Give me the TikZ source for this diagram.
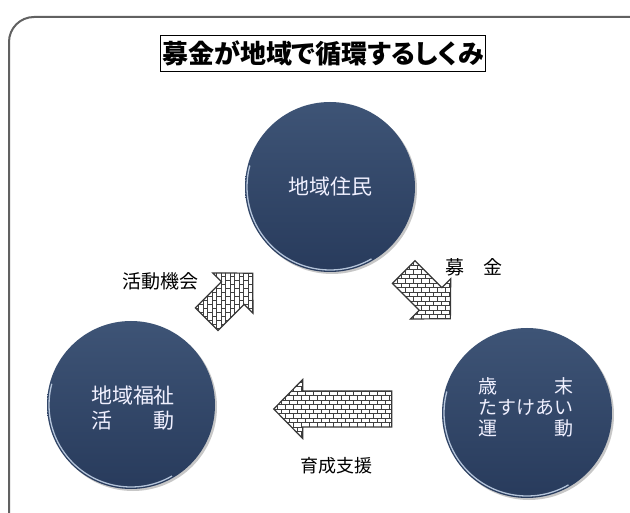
\documentclass[tikz,border=0pt]{standalone}
\usepackage{fontspec}
\newfontfamily\jp{Noto Sans CJK JP}
\newfontfamily\jpt[RawFeature=+palt]{Noto Sans CJK JP}
\usetikzlibrary{patterns,shadows}
\definecolor{navytop}{RGB}{62,84,118}
\definecolor{navybot}{RGB}{40,59,92}
\definecolor{rimc}{RGB}{205,220,240}
\pgfdeclarepatternformonly{hbricks}{\pgfpoint{-0.5pt}{-0.5pt}}{\pgfpoint{8.5pt}{9.5pt}}{\pgfpoint{8pt}{9pt}}{%
  \pgfsetlinewidth{0.55pt}%
  \pgfpathmoveto{\pgfpoint{0pt}{0.5pt}}\pgfpathlineto{\pgfpoint{8pt}{0.5pt}}%
  \pgfpathmoveto{\pgfpoint{0pt}{5pt}}\pgfpathlineto{\pgfpoint{8pt}{5pt}}%
  \pgfpathmoveto{\pgfpoint{1pt}{0.5pt}}\pgfpathlineto{\pgfpoint{1pt}{5pt}}%
  \pgfpathmoveto{\pgfpoint{5pt}{5pt}}\pgfpathlineto{\pgfpoint{5pt}{9.5pt}}%
  \pgfusepath{stroke}}
\pgfdeclarepatternformonly{vbricks}{\pgfpoint{-0.5pt}{-0.5pt}}{\pgfpoint{9.5pt}{8.5pt}}{\pgfpoint{9pt}{8pt}}{%
  \pgfsetlinewidth{0.55pt}%
  \pgfpathmoveto{\pgfpoint{0.5pt}{0pt}}\pgfpathlineto{\pgfpoint{0.5pt}{8pt}}%
  \pgfpathmoveto{\pgfpoint{5pt}{0pt}}\pgfpathlineto{\pgfpoint{5pt}{8pt}}%
  \pgfpathmoveto{\pgfpoint{0.5pt}{1pt}}\pgfpathlineto{\pgfpoint{5pt}{1pt}}%
  \pgfpathmoveto{\pgfpoint{5pt}{5pt}}\pgfpathlineto{\pgfpoint{9.5pt}{5pt}}%
  \pgfusepath{stroke}}
\tikzset{
  framestyle/.style={draw=black!62, line width=2pt},
  titlebox/.style={draw=black, line width=0.8pt, inner xsep=2pt, inner ysep=1pt, minimum height=36pt, font=\jpt\bfseries\fontsize{26}{26}\selectfont},
  circ/.style={circle, draw=none, top color=navytop, bottom color=navybot, text=white,
    drop shadow={shadow xshift=2pt, shadow yshift=-2pt, opacity=0.22, fill=black}},
  rim/.style={draw=rimc, line width=1.3pt, opacity=0.85},
  intext/.style={text=white!94!blue, align=left, inner sep=0pt},
  lab/.style={text=black, inner sep=0pt},
  barrow/.style={draw=black!78, line width=1.2pt, line join=miter,
    preaction={fill=white}, pattern color=black!75},
}
\begin{document}
\begin{tikzpicture}[x=1pt,y=-1pt]
\useasboundingbox (0,0) rectangle (630,513);
\fill[white] (0,0) rectangle (630,513);
% outer frame
\draw[framestyle] (9,515) -- (9,42) arc[start angle=180, end angle=270, radius=25] -- (632,17);
% title
\node[titlebox] (title) at (323,53) {募金が地域で循環するしくみ};
% circles
\node[circ, minimum size=170pt] (top) at (330,187) {};
\node[circ, minimum size=168pt] (bl) at (131,405) {};
\node[circ, minimum size=170pt] (br) at (527,413) {};
\draw[rim] (top.center) ++(60:83) arc[start angle=60, end angle=195, radius=83];
\draw[rim] (bl.center) ++(60:82) arc[start angle=60, end angle=195, radius=82];
\draw[rim] (br.center) ++(60:83) arc[start angle=60, end angle=195, radius=83];
% circle texts
\node[intext, font=\jp\fontsize{21}{21}\selectfont] (ttop) at (top.center) {地域住民};
\node[intext, font=\jp\fontsize{21}{25}\selectfont] (tbl) at (133,408) {地域福祉\\\makebox[4em][l]{活\hfill 動}};
\node[intext, font=\jp\fontsize{19}{21}\selectfont] (tbr) at (525.5,407) {\makebox[5em][l]{歳\hfill 末}\\たすけあい\\\makebox[5em][l]{運\hfill 動}};
% block arrows
\begin{scope}[shift={(206.7,319.2)}, rotate=45]
  \draw[barrow, pattern=vbricks] (0,-16) -- (37,-16) -- (37,-28.5) -- (65,0) -- (37,28.5) -- (37,16) -- (0,16) -- cycle;
\end{scope}
\begin{scope}[shift={(403.7,272)}, rotate=-45]
  \draw[barrow, pattern=hbricks] (0,-16) -- (38,-16) -- (38,-28.5) -- (66,0) -- (38,28.5) -- (38,16) -- (0,16) -- cycle;
\end{scope}
\begin{scope}[shift={(391.7,409)}, rotate=180]
  \draw[barrow, pattern=hbricks] (0,-18) -- (89,-18) -- (89,-29.5) -- (118,0) -- (89,29.5) -- (89,18) -- (0,18) -- cycle;
\end{scope}
% labels
\node[lab, font=\jp\fontsize{19}{19}\selectfont] (l1) at (160,281) {活動機会};
\node[lab, font=\jp\fontsize{19}{19}\selectfont] (l2) at (474,267) {募\hspace{1em}金};
\node[lab, font=\jp\fontsize{18}{18}\selectfont] (l3) at (336,466) {育成支援};
\end{tikzpicture}
\end{document}
